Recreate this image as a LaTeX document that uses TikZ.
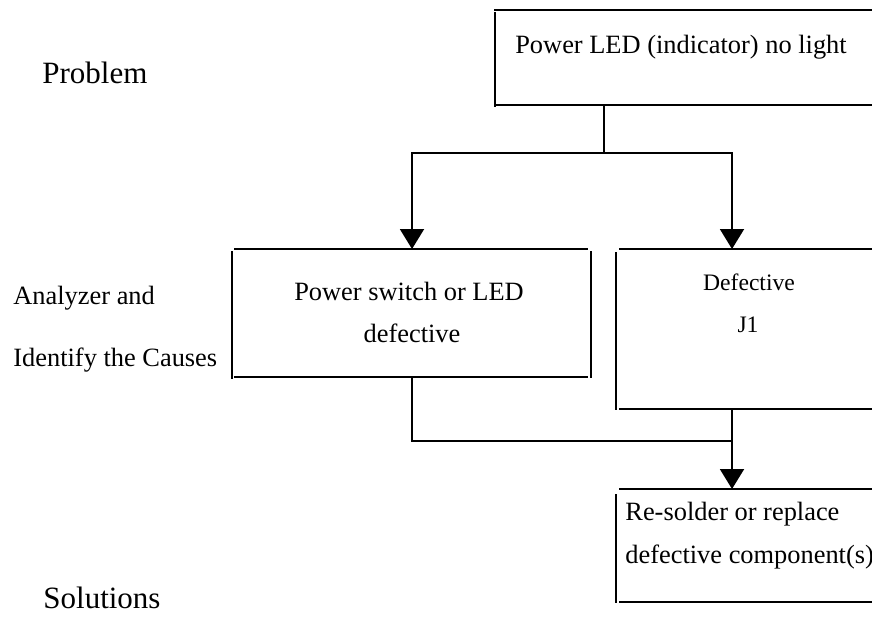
\documentclass[tikz,border=0pt]{standalone}
\usepackage{fontspec}
\setmainfont{Liberation Serif}
\usetikzlibrary{arrows.meta}
\begin{document}
\begin{tikzpicture}[x=0.5pt,y=-0.5pt,
  hline/.style={line width=1pt},
  vline/.style={line width=0.6pt},
  conn/.style={line width=1pt},
  arr/.style={conn,-{Triangle[width=12pt,length=10pt]}},
  txt/.style={inner sep=0pt,font=\fontsize{13.2pt}{16pt}\selectfont},
  stxt/.style={inner sep=0pt,font=\fontsize{11.8pt}{14pt}\selectfont},
  lbl/.style={inner sep=0pt,font=\fontsize{15.5pt}{18pt}\selectfont}]
\useasboundingbox (0,0) rectangle (872,616);
% texts
\node[txt,anchor=base] (t1) at (681,53) {Power LED (indicator) no light};
\node[txt,anchor=base] (t2a) at (409,300) {Power switch or LED};
\node[txt,anchor=base] (t2b) at (412,342) {defective};
\node[stxt,anchor=base] (t3a) at (749,290) {Defective};
\node[stxt,anchor=base] (t3b) at (748,332) {J1};
\node[txt,anchor=base west] (t4a) at (625,520) {Re-solder or replace};
\node[txt,anchor=base west] (t4b) at (625,563) {defective component(s)};
\node[lbl,anchor=base west] (l1) at (42,83) {Problem};
\node[txt,anchor=base west] (l2) at (13,304) {Analyzer and};
\node[txt,anchor=base west] (l3) at (13,366) {Identify the Causes};
\node[lbl,anchor=base west] (l4) at (43,608) {Solutions};
% box borders
\draw[hline] (494,10) -- (872,10);
\draw[hline] (494,105) -- (872,105);
\draw[vline] (495,12) -- (495,107);
\draw[hline] (234,249) -- (588,249);
\draw[hline] (234,377) -- (588,377);
\draw[vline] (232,251) -- (232,379);
\draw[vline] (591,251) -- (591,378);
\draw[hline] (619,249) -- (872,249);
\draw[hline] (619,409) -- (872,409);
\draw[vline] (616,252) -- (616,410);
\draw[hline] (619,489) -- (872,489);
\draw[hline] (619,602) -- (872,602);
\draw[vline] (616,494) -- (616,603);
% connector points
\coordinate (c1) at (604,105);
\coordinate (c1m) at (604,153);
\coordinate (c2t) at (412,249);
\coordinate (c3t) at (732,249);
\coordinate (c2b) at (412,377);
\coordinate (cj) at (732,441);
\coordinate (c3b) at (732,409);
\coordinate (c4t) at (732,489);
% connectors
\draw[conn] (c1) -- (c1m);
\draw[arr] (c1m) -| (c2t);
\draw[arr] (c1m) -| (c3t);
\draw[conn] (c2b) |- (cj);
\draw[arr] (c3b) -- (c4t);
\end{tikzpicture}
\end{document}
